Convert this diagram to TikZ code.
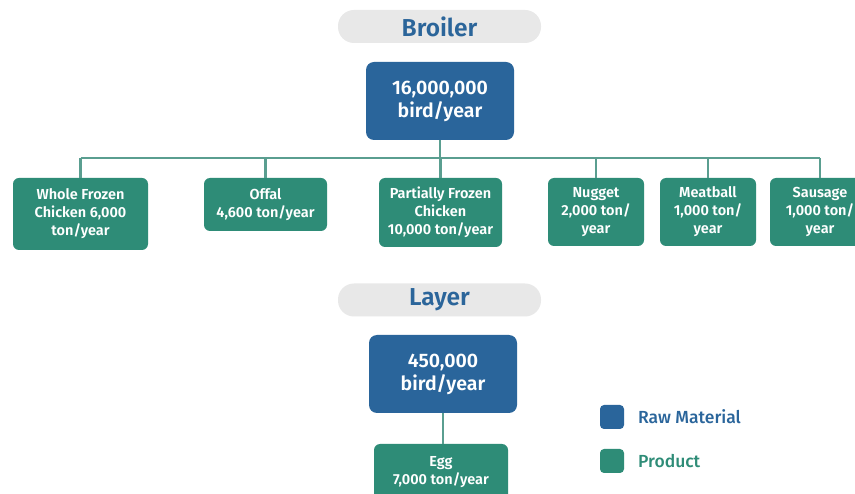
\documentclass[tikz,border=0pt]{standalone}
\usepackage{fontspec}
\setmainfont{Fira Sans}[BoldFont={Fira Sans SemiBold}]
\newfontfamily\legfont{Fira Sans Medium}
\definecolor{rawblue}{HTML}{2A659B}
\definecolor{prodgreen}{HTML}{2E8C77}
\definecolor{linegreen}{HTML}{5A9E90}
\definecolor{pillgrey}{HTML}{E8E8E8}
\definecolor{titleblue}{HTML}{2B659A}
\tikzset{
  pill/.style={fill=pillgrey, rounded corners=16pt, minimum width=203pt, minimum height=33pt, inner sep=0pt, text=titleblue, font=\fontsize{24.5}{26}\selectfont\bfseries},
  rawbox/.style={fill=rawblue, rounded corners=8pt, minimum width=148pt, minimum height=78pt, inner sep=0pt, text=white, align=center, font=\fontsize{19.5}{23}\selectfont\bfseries},
  prodbox/.style={fill=prodgreen, rounded corners=6pt, inner sep=0pt, text=white, align=center, font=\fontsize{14.5}{18}\selectfont\bfseries},
  conn/.style={draw=linegreen, line width=2.4pt},
  legsq/.style={rounded corners=4pt, minimum width=24pt, minimum height=24pt, inner sep=0pt},
  legtext/.style={anchor=west, inner sep=0pt, font=\fontsize{17.5}{20}\legfont}
}
\begin{document}
\begin{tikzpicture}[x=1pt, y=-1pt]
\useasboundingbox (0,0) rectangle (855,494);
\fill[white] (0,0) rectangle (855,494);
\clip (0,0) rectangle (855,494);
% connectors first (behind boxes)
\coordinate (bus) at (440,158);
% Broiler section
\node[pill] (broiler) at (439.5,26.5) {Broiler};
\node[rawbox] (raw1) at (440,101) {16,000,000\\bird/year};
\node[prodbox, minimum width=135pt, minimum height=72pt] (whole) at (80.5,214) {Whole Frozen\\Chicken 6,000\\ton/year};
\node[prodbox, minimum width=123pt, minimum height=53pt] (offal) at (265.5,204.5) {Offal\\4,600 ton/year};
\node[prodbox, minimum width=123pt, minimum height=69pt] (partial) at (440.5,212.5) {Partially Frozen\\Chicken\\10,000 ton/year};
\node[prodbox, minimum width=96pt, minimum height=68pt] (nugget) at (596,212) {Nugget\\2,000 ton/\\year};
\node[prodbox, minimum width=96pt, minimum height=68pt] (meatball) at (708,212) {Meatball\\1,000 ton/\\year};
\node[prodbox, minimum width=100pt, minimum height=68pt] (sausage) at (820,212) {Sausage\\1,000 ton/\\year};
\draw[conn] (raw1.south) -- (raw1.south |- bus);
\draw[conn] (whole.north |- bus) -- (sausage.north |- bus);
\foreach \n in {whole,offal,partial,nugget,meatball,sausage}
  \draw[conn] (\n.north |- bus) -- (\n.north);
% Layer section
\node[pill] (layer) at (439.5,300) {Layer};
\node[rawbox] (raw2) at (443,374) {450,000\\bird/year};
\node[prodbox, minimum width=134pt, minimum height=60pt] (egg) at (441,474) {};
\node[text=white, align=center, font=\fontsize{14.5}{18}\selectfont\bfseries] (eggtext) at (441,472) {Egg\\7,000 ton/year};
\draw[conn] (raw2.south) -- (raw2.south |- egg.north);
% Legend
\node[legsq, fill=rawblue] (legraw) at (612,417) {};
\node[legtext, text=rawblue] (legrawt) at (638,417) {Raw Material};
\node[legsq, fill=prodgreen] (legprod) at (612,461) {};
\node[legtext, text=prodgreen] (legprodt) at (638,461) {Product};
\end{tikzpicture}
\end{document}
